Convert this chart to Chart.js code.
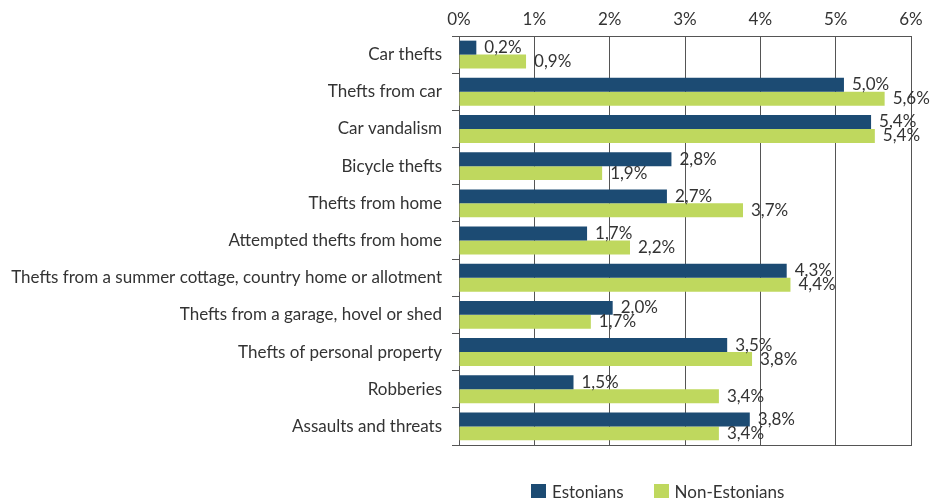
<!DOCTYPE html>
<html lang="en">
<head>
  <meta charset="UTF-8" />
  <title>Crime victims by nationality</title>
  <script src="https://cdn.jsdelivr.net/npm/chart.js"></script>
  <style>
    * { margin: 0; padding: 0; box-sizing: border-box; }
    body { background: #fff; width: 934px; height: 498px; overflow: hidden; font-family: 'Lato', sans-serif; }
    .wrap { position: relative; width: 934px; height: 498px; }
    .legend { position: absolute; left: 531px; top: 481px; display: flex; align-items: center; font-size: 17px; color: #333; }
    .legend span.box { display: inline-block; width: 15px; height: 15px; margin-right: 6px; }
    .legend .item { display: flex; align-items: center; margin-right: 30px; }
  </style>
</head>
<body>
<div class="wrap">
  <canvas id="chart"></canvas>
  <div class="legend" id="legend"></div>
</div>

<script>
  const categories = [
    'Car thefts',
    'Thefts from car',
    'Car vandalism',
    'Bicycle thefts',
    'Thefts from home',
    'Attempted thefts from home',
    'Thefts from a summer cottage, country home or allotment',
    'Thefts from a garage, hovel or shed',
    'Thefts of personal property',
    'Robberies',
    'Assaults and threats'
  ];
  const estonians = [0.23, 5.11, 5.47, 2.82, 2.76, 1.70, 4.35, 2.04, 3.56, 1.52, 3.86];
  const nonEstonians = [0.89, 5.65, 5.52, 1.90, 3.77, 2.27, 4.40, 1.75, 3.89, 3.45, 3.45];
  const estonianLabels = ['0,2%', '5,0%', '5,4%', '2,8%', '2,7%', '1,7%', '4,3%', '2,0%', '3,5%', '1,5%', '3,8%'];
  const nonEstonianLabels = ['0,9%', '5,6%', '5,4%', '1,9%', '3,7%', '2,2%', '4,4%', '1,7%', '3,8%', '3,4%', '3,4%'];
  const xMin = 0, xMax = 6, xStep = 1;

  const blue = '#1c4b73';
  const green = '#bfd85e';
  const lineColor = '#555';
  const textColor = '#333';
  const font = { family: 'Lato, sans-serif', size: 17 };

  // writes the printed percentage next to each bar
  const valueLabels = {
    id: 'valueLabels',
    afterDatasetsDraw(chart) {
      const ctx = chart.ctx;
      ctx.save();
      ctx.font = '17px Lato, sans-serif';
      ctx.fillStyle = textColor;
      ctx.textBaseline = 'middle';
      ctx.textAlign = 'left';
      chart.data.datasets.forEach((ds, di) => {
        chart.getDatasetMeta(di).data.forEach((bar, i) => {
          ctx.fillText(ds.valueLabels[i], bar.x + 8, bar.y);
        });
      });
      ctx.restore();
    }
  };

  const chart = new Chart(document.getElementById('chart'), {
    type: 'bar',
    data: {
      labels: categories,
      datasets: [
        { label: 'Estonians', data: estonians, valueLabels: estonianLabels, backgroundColor: blue },
        { label: 'Non-Estonians', data: nonEstonians, valueLabels: nonEstonianLabels, backgroundColor: green }
      ]
    },
    options: {
      indexAxis: 'y',
      responsive: true,
      maintainAspectRatio: false,
      animation: false,
      datasets: { bar: { barPercentage: 1, categoryPercentage: 0.75 } },
      layout: { padding: { left: 0, right: 23, top: 0, bottom: 53 } },
      plugins: { legend: { display: false }, tooltip: { enabled: false } },
      scales: {
        x: {
          position: 'top',
          min: xMin, max: xMax,
          ticks: { stepSize: xStep, callback: v => v + '%', font: font, color: textColor, padding: 6 },
          grid: { color: lineColor, drawTicks: false },
          border: { display: true, color: lineColor },
          afterFit: s => { s.height = 36; }
        },
        x2: {
          axis: 'x',
          position: 'bottom',
          min: xMin, max: xMax,
          ticks: { display: false },
          grid: { display: false },
          border: { display: true, color: lineColor },
          afterFit: s => { s.height = 0; }
        },
        y: {
          ticks: { font: font, color: textColor, padding: 10 },
          grid: { drawOnChartArea: false, offset: true, tickLength: 7, color: lineColor },
          border: { display: true, color: lineColor },
          afterFit: s => { s.width = 459; }
        }
      }
    },
    plugins: [valueLabels]
  });

  document.getElementById('legend').innerHTML = chart.data.datasets.map(ds =>
    `<div class="item"><span class="box" style="background:${ds.backgroundColor}"></span>${ds.label}</div>`
  ).join('');
</script>
</body>
</html>
